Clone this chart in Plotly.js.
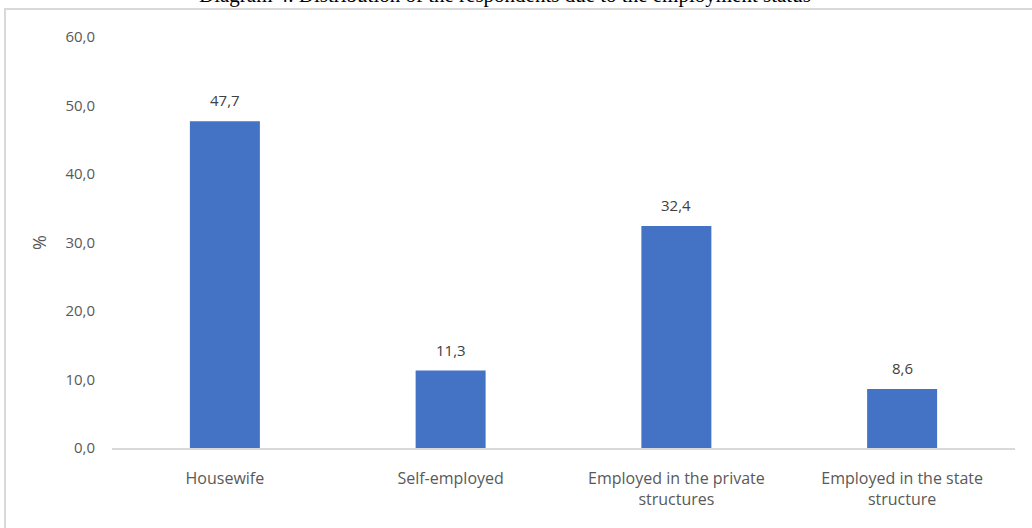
<!DOCTYPE html>
<html>
<head>
<meta charset="utf-8">
<script src="https://cdn.plot.ly/plotly-3.0.1.min.js"></script>
<style>html,body{margin:0;padding:0;background:#fff;}#chart{width:1032px;height:528px;}</style>
</head>
<body>
<div id="chart"></div>
<script>
const categories = ["Housewife", "Self-employed", "Employed in the private<br>structures", "Employed in the state<br>structure"];
const values = [47.7, 11.3, 32.4, 8.6];
const yTicks = [0, 10, 20, 30, 40, 50, 60];
const titleText = "Diagram 4. Distribution of the respondents due to the employment status";

const font = "Open Sans, Noto Sans, sans-serif";

const trace = {
  type: "bar",
  x: categories,
  y: values,
  marker: {color: "#4472c4"},
  hoverinfo: "none"
};

const valueLabels = categories.map((c, i) => ({
  x: c, y: values[i], xref: "x", yref: "y",
  text: values[i].toFixed(1).replace(".", ","),
  showarrow: false, yanchor: "bottom", yshift: 9,
  font: {family: font, size: 15, color: "#404040"}
}));

const layout = {
  width: 1032, height: 528,
  margin: {l: 112, r: 17, t: 37, b: 80},
  paper_bgcolor: "#fff", plot_bgcolor: "#fff",
  showlegend: false,
  bargap: 0.69,
  separators: ",.",
  xaxis: {
    showgrid: false, showline: true, linecolor: "#d9d9d9", linewidth: 2,
    ticks: "", ticklabelstandoff: 15,
    tickfont: {family: font, size: 16, color: "#595959"},
    fixedrange: true
  },
  yaxis: {
    range: [0, 60], tickvals: yTicks, tickformat: ".1f",
    showgrid: false, zeroline: false, showline: false, ticks: "",
    ticklabelstandoff: 16,
    tickfont: {family: font, size: 15, color: "#595959"},
    title: {text: "%", font: {family: font, size: 18, color: "#595959"}, standoff: 14},
    fixedrange: true
  },
  shapes: [{
    type: "rect", xref: "paper", yref: "paper",
    x0: -0.1185, x1: 1.03, y0: -0.23, y1: 1.068,
    line: {color: "#d9d9d9", width: 2}, fillcolor: "rgba(0,0,0,0)", layer: "below"
  }],
  annotations: valueLabels.concat([{
    text: titleText, xref: "paper", yref: "paper",
    x: 0.435, y: 1.068, xanchor: "center", yanchor: "bottom",
    showarrow: false,
    font: {family: "Liberation Serif, Times New Roman, serif", size: 21, color: "#000"}
  }])
};

Plotly.newPlot("chart", [trace], layout, {displayModeBar: false, staticPlot: true});
</script>
</body>
</html>
